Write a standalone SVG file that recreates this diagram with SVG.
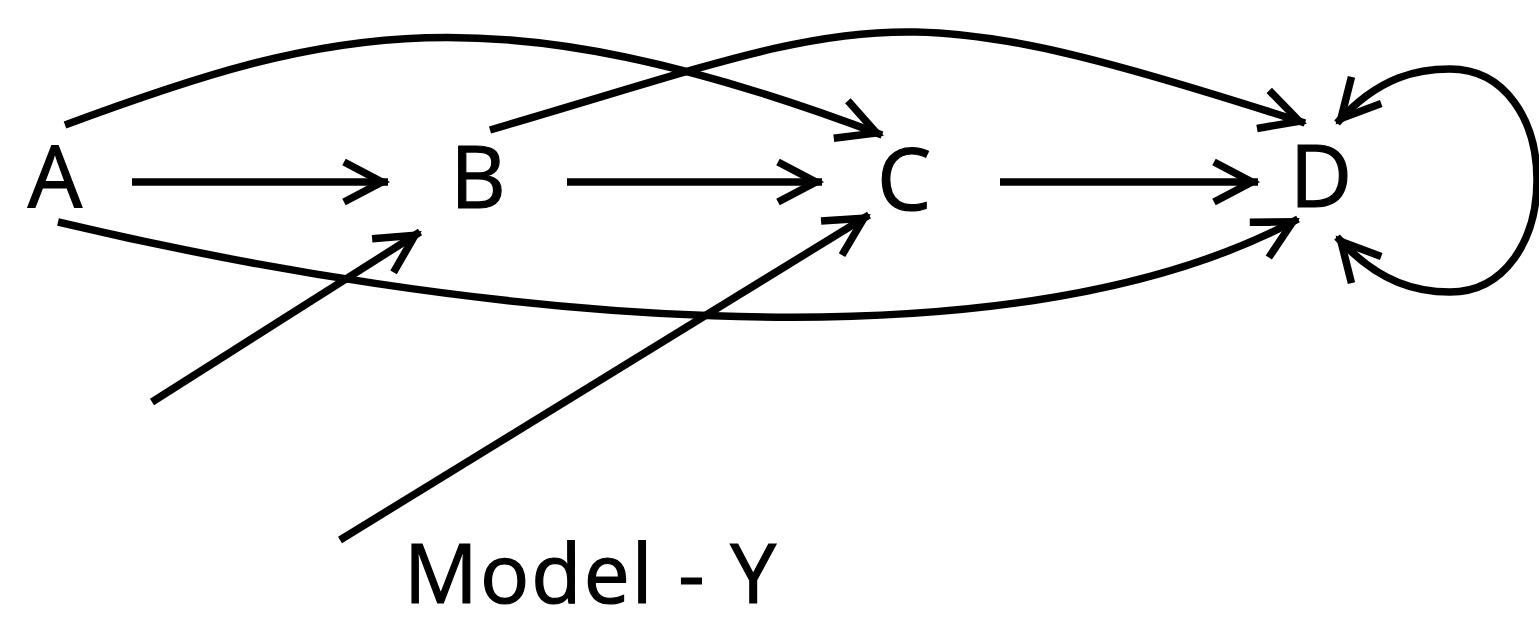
<svg xmlns="http://www.w3.org/2000/svg" width="1539" height="626" viewBox="0 0 1539 626">
  <style>
    .lbl { font-family: "Open Sans", "Liberation Sans", sans-serif; font-size: 86px; fill: #000; stroke: #000; stroke-width: 1.2; text-anchor: middle; }
    .cap { font-size: 82px; }
    .edge { fill: none; stroke: #000; stroke-width: 7.5; stroke-linecap: butt; marker-end: url(#arr); }
  </style>
  <defs>
    <marker id="arr" markerUnits="userSpaceOnUse" viewBox="-50 -30 60 60" markerWidth="60" markerHeight="60" refX="0" refY="0" orient="auto-start-reverse" overflow="visible">
      <path d="M-44,-20 L-6,0 L-44,20" fill="none" stroke="#000" stroke-width="7.5" stroke-linejoin="miter"/>
    </marker>
  </defs>
  <rect width="1539" height="626" fill="#fff"/>
  <g id="connectors">
    <path class="edge" d="M132,182 L388,182"/>
    <path class="edge" d="M567,182 L822,182"/>
    <path class="edge" d="M1000,182 L1258,182"/>
    <path class="edge" d="M65,125 C330,27 490,-13 882,135"/>
    <path class="edge" d="M490,130 C880,16 880,-14 1305,123"/>
    <path class="edge" d="M58,222 C450,315 1000,380 1298,219"/>
    <path class="edge" d="M152,402 L420,232"/>
    <path class="edge" d="M340,540 L869,215"/>
    <path class="edge" style="marker-start: url(#arr);" d="M1337,237 C1380,285 1420,292 1450,292 C1505,292 1537,240 1537,180 C1537,120 1505,69 1450,69 C1420,69 1380,75 1337,123"/>
  </g>
  <g id="node-A"><text class="lbl" x="55" y="208">A</text></g>
  <g id="node-B"><text class="lbl" x="478" y="208">B</text></g>
  <g id="node-C"><text class="lbl" x="904" y="210">C</text></g>
  <g id="node-D"><text class="lbl" x="1321" y="207">D</text></g>
  <g id="caption"><text class="lbl cap" x="590" y="603" textLength="372" lengthAdjust="spacing">Model - Y</text></g>
</svg>
